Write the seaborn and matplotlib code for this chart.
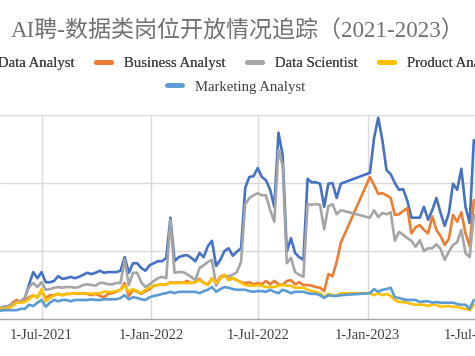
import numpy as np
import pandas as pd
import matplotlib
matplotlib.use("Agg")
import matplotlib.pyplot as plt
import matplotlib.lines as mlines
import seaborn as sns

# weekly snapshots, no data between mid-Nov 2022 and early Jan 2023
dates = list(pd.date_range("2021-04-22", periods=83, freq="7D")) + \
        list(pd.date_range("2023-01-05", periods=26, freq="7D"))

data_analyst = [
    16, 18, 19, 22, 25, 26, 31, 51, 69, 60, 69, 54, 54, 56, 63, 59, 60, 62, 60, 62,
    65, 68, 66, 68, 71, 68, 69, 69, 69, 71, 91, 68, 82, 82, 75, 71, 79, 82, 85, 85,
    90, 149, 85, 91, 93, 94, 90, 85, 97, 91, 107, 115, 78, 87, 100, 104, 93, 99, 104, 193,
    209, 210, 222, 209, 204, 190, 165, 274, 241, 99, 119, 97, 91, 87, 206, 201, 201, 199, 165, 199,
    200, 178, 199,
    215, 266, 296, 263, 219, 213, 200, 190, 191, 174, 149, 149, 149, 165, 146, 160, 178, 156, 137, 156,
    199, 190, 221, 165, 141, 263,
]
business_analyst = [
    15, 16, 18, 24, 28, 25, 26, 32, 35, 32, 41, 31, 35, 35, 37, 35, 37, 37, 38, 37,
    38, 37, 35, 37, 34, 32, 37, 38, 40, 43, 53, 34, 43, 40, 37, 41, 44, 49, 50, 51,
    51, 54, 53, 54, 53, 56, 53, 54, 59, 53, 51, 60, 54, 62, 65, 59, 60, 57, 54, 53,
    54, 51, 53, 51, 56, 51, 56, 51, 50, 56, 57, 51, 54, 50, 50, 49, 47, 46, 41, 66,
    63, 84, 112,
    209, 197, 184, 185, 182, 178, 153, 154, 159, 163, 126, 135, 138, 131, 126, 151, 131, 122, 109, 118,
    153, 143, 157, 126, 107, 175,
]
data_scientist = [
    16, 18, 19, 22, 25, 26, 32, 47, 53, 47, 54, 43, 44, 46, 47, 46, 47, 47, 46, 47,
    50, 51, 50, 49, 53, 53, 51, 51, 53, 53, 87, 50, 68, 68, 54, 47, 51, 56, 60, 62,
    60, 146, 68, 69, 69, 66, 62, 57, 75, 79, 84, 87, 49, 60, 63, 63, 65, 69, 84, 169,
    178, 182, 185, 182, 182, 160, 143, 249, 226, 82, 90, 69, 65, 62, 169, 168, 169, 168, 132, 166,
    169, 154, 160,
    149, 160, 150, 156, 154, 157, 115, 128, 124, 119, 115, 106, 116, 100, 104, 104, 110, 103, 87, 99,
    109, 113, 131, 97, 91, 153,
]
product_analyst = [
    15, 15, 16, 19, 24, 24, 25, 29, 35, 31, 44, 26, 31, 35, 37, 35, 37, 37, 38, 38,
    37, 38, 37, 38, 38, 40, 40, 40, 41, 43, 49, 40, 44, 41, 38, 43, 46, 49, 50, 51,
    51, 53, 53, 53, 53, 53, 53, 54, 57, 53, 50, 60, 53, 60, 65, 57, 60, 57, 53, 50,
    49, 49, 50, 49, 47, 47, 47, 49, 50, 49, 49, 46, 46, 46, 43, 41, 40, 38, 32, 37,
    35, 35, 38,
    38, 35, 38, 35, 37, 34, 28, 25, 25, 24, 22, 21, 21, 21, 19, 21, 21, 18, 19, 19,
    18, 18, 16, 15, 13, 21,
]
marketing_analyst = [
    12, 13, 13, 13, 13, 15, 15, 21, 19, 24, 28, 18, 24, 28, 26, 28, 28, 26, 28, 28,
    28, 28, 29, 28, 28, 29, 29, 29, 29, 31, 35, 29, 32, 31, 29, 28, 32, 34, 35, 37,
    38, 40, 38, 40, 40, 40, 40, 40, 38, 41, 43, 47, 40, 44, 47, 46, 44, 43, 43, 43,
    41, 40, 41, 41, 40, 43, 40, 38, 43, 41, 38, 40, 40, 40, 38, 37, 37, 35, 31, 35,
    34, 34, 35,
    38, 44, 40, 43, 44, 46, 32, 31, 29, 28, 28, 28, 25, 26, 26, 24, 25, 24, 24, 24,
    24, 22, 21, 21, 15, 28,
]

series_names = ["Data Analyst", "Business Analyst", "Data Scientist",
                "Product Analyst", "Marketing Analyst"]
series_values = [data_analyst, business_analyst, data_scientist,
                 product_analyst, marketing_analyst]
colors = ["#4472C4", "#ED7D31", "#A5A5A5", "#FFC000", "#5B9BD5"]

tick_dates = pd.to_datetime(["2021-07-01", "2022-01-01", "2022-07-01",
                             "2023-01-01", "2023-07-01"])
tick_labels = ["1-Jul-2021", "1-Jan-2022", "1-Jul-2022", "1-Jan-2023", "1-Jul-2023"]
y_grid = [100, 200, 300]

df = pd.concat([
    pd.DataFrame({"date": dates, "jobs": vals, "role": name})
    for name, vals in zip(series_names, series_values)
], ignore_index=True)

sns.set_style("white")
plt.rcParams["font.family"] = ["Liberation Serif", "Noto Sans CJK SC", "DejaVu Sans"]

fig = plt.figure(figsize=(4.75, 3.56), dpi=100)
ax = fig.add_axes([0.0, 0.1039, 1.0, 0.5730])

for yv in y_grid:
    ax.axhline(yv, color="#D9D9D9", lw=1.0, zorder=0)
for td in tick_dates:
    ax.axvline(td, color="#D9D9D9", lw=1.0, zorder=0)

sns.lineplot(data=df, x="date", y="jobs", hue="role", hue_order=series_names,
             palette=colors, linewidth=1.9, legend=False, ax=ax, sort=True)

ax.set_xlim(pd.Timestamp("2021-04-22"), pd.Timestamp("2023-06-27"))
ax.set_ylim(0, 300)
ax.set_xticks(tick_dates)
ax.set_xticklabels(tick_labels, fontsize=10.5, color="#404040")
ax.set_yticks([])
ax.tick_params(axis="x", length=0, pad=7.5)
ax.set_xlabel("")
ax.set_ylabel("")
for side in ["left", "right", "top"]:
    ax.spines[side].set_visible(False)
ax.spines["bottom"].set_color("#A6A6A6")
ax.spines["bottom"].set_linewidth(1.0)

fig.text(0.5, 0.91, "AI聘-数据类岗位开放情况追踪（2021-2023）",
         ha="center", va="center", fontsize=16.6, color="#707070")

handles = [mlines.Line2D([], [], color=c, lw=3.5) for c in colors]
leg1 = fig.legend(handles[:4], series_names[:4], loc="center", ncol=4,
                  bbox_to_anchor=(0.497, 0.822), frameon=False, fontsize=10.6,
                  handlelength=1.0, handletextpad=0.9, columnspacing=1.45)
for t in leg1.get_texts():
    t.set_color("#404040")
leg2 = fig.legend(handles[4:], series_names[4:], loc="center", ncol=1,
                  bbox_to_anchor=(0.497, 0.756), frameon=False, fontsize=10.6,
                  handlelength=1.0, handletextpad=0.9)
for t in leg2.get_texts():
    t.set_color("#404040")
fig.add_artist(leg1)

fig.savefig("out.png", dpi=100)
